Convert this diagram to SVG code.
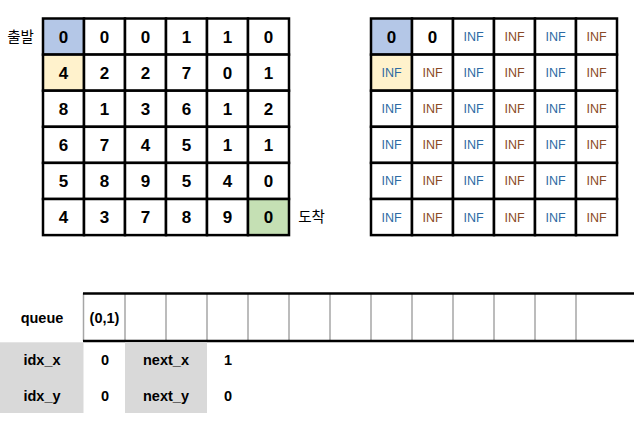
<svg xmlns="http://www.w3.org/2000/svg" width="634" height="422" viewBox="0 0 634 422">
<style>
.bg{fill:#ffffff}
.cell{fill:#ffffff;stroke:#000000;stroke-width:2.5}
.start{fill:#b4c7e7}
.visit{fill:#fff2cc}
.goal{fill:#c5e0b4}
.num{font-family:"Liberation Sans","Noto Sans CJK KR",sans-serif;font-weight:bold;font-size:17px;fill:#000;text-anchor:middle}
.inf{font-family:"Liberation Sans","Noto Sans CJK KR",sans-serif;font-size:12.5px;text-anchor:middle}
.ia{fill:#2d6aa3}
.ib{fill:#8a4a26}
.ko{font-family:"Noto Sans CJK KR","Liberation Sans",sans-serif;font-size:14.5px;fill:#000;text-anchor:middle}
.lbl{font-family:"Liberation Sans","Noto Sans CJK KR",sans-serif;font-weight:bold;font-size:14.5px;fill:#000;text-anchor:middle}
.grey{fill:#d9d9d9}
.qline{stroke:#a6a6a6;stroke-width:1.5}
.qedge{stroke:#000;stroke-width:2.5}
</style>
<rect class="bg" x="0" y="0" width="634" height="422"/>

<g id="map">
<g id="m00"><rect class="cell start" x="43" y="18.5" width="41" height="36.1"/><text class="num" x="63.5" y="42.6">0</text></g>
<g id="m01"><rect class="cell" x="84" y="18.5" width="41" height="36.1"/><text class="num" x="104.5" y="42.6">0</text></g>
<g id="m02"><rect class="cell" x="125" y="18.5" width="41" height="36.1"/><text class="num" x="145.5" y="42.6">0</text></g>
<g id="m03"><rect class="cell" x="166" y="18.5" width="41" height="36.1"/><text class="num" x="186.5" y="42.6">1</text></g>
<g id="m04"><rect class="cell" x="207" y="18.5" width="41" height="36.1"/><text class="num" x="227.5" y="42.6">1</text></g>
<g id="m05"><rect class="cell" x="248" y="18.5" width="41" height="36.1"/><text class="num" x="268.5" y="42.6">0</text></g>

<g id="m10"><rect class="cell visit" x="43" y="54.6" width="41" height="36.1"/><text class="num" x="63.5" y="78.7">4</text></g>
<g id="m11"><rect class="cell" x="84" y="54.6" width="41" height="36.1"/><text class="num" x="104.5" y="78.7">2</text></g>
<g id="m12"><rect class="cell" x="125" y="54.6" width="41" height="36.1"/><text class="num" x="145.5" y="78.7">2</text></g>
<g id="m13"><rect class="cell" x="166" y="54.6" width="41" height="36.1"/><text class="num" x="186.5" y="78.7">7</text></g>
<g id="m14"><rect class="cell" x="207" y="54.6" width="41" height="36.1"/><text class="num" x="227.5" y="78.7">0</text></g>
<g id="m15"><rect class="cell" x="248" y="54.6" width="41" height="36.1"/><text class="num" x="268.5" y="78.7">1</text></g>

<g id="m20"><rect class="cell" x="43" y="90.7" width="41" height="36.1"/><text class="num" x="63.5" y="114.8">8</text></g>
<g id="m21"><rect class="cell" x="84" y="90.7" width="41" height="36.1"/><text class="num" x="104.5" y="114.8">1</text></g>
<g id="m22"><rect class="cell" x="125" y="90.7" width="41" height="36.1"/><text class="num" x="145.5" y="114.8">3</text></g>
<g id="m23"><rect class="cell" x="166" y="90.7" width="41" height="36.1"/><text class="num" x="186.5" y="114.8">6</text></g>
<g id="m24"><rect class="cell" x="207" y="90.7" width="41" height="36.1"/><text class="num" x="227.5" y="114.8">1</text></g>
<g id="m25"><rect class="cell" x="248" y="90.7" width="41" height="36.1"/><text class="num" x="268.5" y="114.8">2</text></g>

<g id="m30"><rect class="cell" x="43" y="126.8" width="41" height="36.1"/><text class="num" x="63.5" y="150.9">6</text></g>
<g id="m31"><rect class="cell" x="84" y="126.8" width="41" height="36.1"/><text class="num" x="104.5" y="150.9">7</text></g>
<g id="m32"><rect class="cell" x="125" y="126.8" width="41" height="36.1"/><text class="num" x="145.5" y="150.9">4</text></g>
<g id="m33"><rect class="cell" x="166" y="126.8" width="41" height="36.1"/><text class="num" x="186.5" y="150.9">5</text></g>
<g id="m34"><rect class="cell" x="207" y="126.8" width="41" height="36.1"/><text class="num" x="227.5" y="150.9">1</text></g>
<g id="m35"><rect class="cell" x="248" y="126.8" width="41" height="36.1"/><text class="num" x="268.5" y="150.9">1</text></g>

<g id="m40"><rect class="cell" x="43" y="162.9" width="41" height="36.1"/><text class="num" x="63.5" y="187">5</text></g>
<g id="m41"><rect class="cell" x="84" y="162.9" width="41" height="36.1"/><text class="num" x="104.5" y="187">8</text></g>
<g id="m42"><rect class="cell" x="125" y="162.9" width="41" height="36.1"/><text class="num" x="145.5" y="187">9</text></g>
<g id="m43"><rect class="cell" x="166" y="162.9" width="41" height="36.1"/><text class="num" x="186.5" y="187">5</text></g>
<g id="m44"><rect class="cell" x="207" y="162.9" width="41" height="36.1"/><text class="num" x="227.5" y="187">4</text></g>
<g id="m45"><rect class="cell" x="248" y="162.9" width="41" height="36.1"/><text class="num" x="268.5" y="187">0</text></g>

<g id="m50"><rect class="cell" x="43" y="199" width="41" height="36.1"/><text class="num" x="63.5" y="223.1">4</text></g>
<g id="m51"><rect class="cell" x="84" y="199" width="41" height="36.1"/><text class="num" x="104.5" y="223.1">3</text></g>
<g id="m52"><rect class="cell" x="125" y="199" width="41" height="36.1"/><text class="num" x="145.5" y="223.1">7</text></g>
<g id="m53"><rect class="cell" x="166" y="199" width="41" height="36.1"/><text class="num" x="186.5" y="223.1">8</text></g>
<g id="m54"><rect class="cell" x="207" y="199" width="41" height="36.1"/><text class="num" x="227.5" y="223.1">9</text></g>
<g id="m55"><rect class="cell goal" x="248" y="199" width="41" height="36.1"/><text class="num" x="268.5" y="223.1">0</text></g>
</g>

<g id="label-start"><text class="ko" x="20.5" y="41.5">출발</text></g>
<g id="label-goal"><text class="ko" x="311.5" y="222">도착</text></g>

<g id="dist">
<g id="d00"><rect class="cell start" x="371" y="18.5" width="41" height="36.1"/><text class="num" x="391.5" y="42.6">0</text></g>
<g id="d01"><rect class="cell" x="412" y="18.5" width="41" height="36.1"/><text class="num" x="432.5" y="42.6">0</text></g>
<g id="d02"><rect class="cell" x="453" y="18.5" width="41" height="36.1"/><text class="inf ia" x="473.5" y="41">INF</text></g>
<g id="d03"><rect class="cell" x="494" y="18.5" width="41" height="36.1"/><text class="inf ib" x="514.5" y="41">INF</text></g>
<g id="d04"><rect class="cell" x="535" y="18.5" width="41" height="36.1"/><text class="inf ia" x="555.5" y="41">INF</text></g>
<g id="d05"><rect class="cell" x="576" y="18.5" width="41" height="36.1"/><text class="inf ib" x="596.5" y="41">INF</text></g>

<g id="d10"><rect class="cell visit" x="371" y="54.6" width="41" height="36.1"/><text class="inf ia" x="391.5" y="77.1">INF</text></g>
<g id="d11"><rect class="cell" x="412" y="54.6" width="41" height="36.1"/><text class="inf ib" x="432.5" y="77.1">INF</text></g>
<g id="d12"><rect class="cell" x="453" y="54.6" width="41" height="36.1"/><text class="inf ia" x="473.5" y="77.1">INF</text></g>
<g id="d13"><rect class="cell" x="494" y="54.6" width="41" height="36.1"/><text class="inf ib" x="514.5" y="77.1">INF</text></g>
<g id="d14"><rect class="cell" x="535" y="54.6" width="41" height="36.1"/><text class="inf ia" x="555.5" y="77.1">INF</text></g>
<g id="d15"><rect class="cell" x="576" y="54.6" width="41" height="36.1"/><text class="inf ib" x="596.5" y="77.1">INF</text></g>

<g id="d20"><rect class="cell" x="371" y="90.7" width="41" height="36.1"/><text class="inf ia" x="391.5" y="113.2">INF</text></g>
<g id="d21"><rect class="cell" x="412" y="90.7" width="41" height="36.1"/><text class="inf ib" x="432.5" y="113.2">INF</text></g>
<g id="d22"><rect class="cell" x="453" y="90.7" width="41" height="36.1"/><text class="inf ia" x="473.5" y="113.2">INF</text></g>
<g id="d23"><rect class="cell" x="494" y="90.7" width="41" height="36.1"/><text class="inf ib" x="514.5" y="113.2">INF</text></g>
<g id="d24"><rect class="cell" x="535" y="90.7" width="41" height="36.1"/><text class="inf ia" x="555.5" y="113.2">INF</text></g>
<g id="d25"><rect class="cell" x="576" y="90.7" width="41" height="36.1"/><text class="inf ib" x="596.5" y="113.2">INF</text></g>

<g id="d30"><rect class="cell" x="371" y="126.8" width="41" height="36.1"/><text class="inf ia" x="391.5" y="149.3">INF</text></g>
<g id="d31"><rect class="cell" x="412" y="126.8" width="41" height="36.1"/><text class="inf ib" x="432.5" y="149.3">INF</text></g>
<g id="d32"><rect class="cell" x="453" y="126.8" width="41" height="36.1"/><text class="inf ia" x="473.5" y="149.3">INF</text></g>
<g id="d33"><rect class="cell" x="494" y="126.8" width="41" height="36.1"/><text class="inf ib" x="514.5" y="149.3">INF</text></g>
<g id="d34"><rect class="cell" x="535" y="126.8" width="41" height="36.1"/><text class="inf ia" x="555.5" y="149.3">INF</text></g>
<g id="d35"><rect class="cell" x="576" y="126.8" width="41" height="36.1"/><text class="inf ib" x="596.5" y="149.3">INF</text></g>

<g id="d40"><rect class="cell" x="371" y="162.9" width="41" height="36.1"/><text class="inf ia" x="391.5" y="185.4">INF</text></g>
<g id="d41"><rect class="cell" x="412" y="162.9" width="41" height="36.1"/><text class="inf ib" x="432.5" y="185.4">INF</text></g>
<g id="d42"><rect class="cell" x="453" y="162.9" width="41" height="36.1"/><text class="inf ia" x="473.5" y="185.4">INF</text></g>
<g id="d43"><rect class="cell" x="494" y="162.9" width="41" height="36.1"/><text class="inf ib" x="514.5" y="185.4">INF</text></g>
<g id="d44"><rect class="cell" x="535" y="162.9" width="41" height="36.1"/><text class="inf ia" x="555.5" y="185.4">INF</text></g>
<g id="d45"><rect class="cell" x="576" y="162.9" width="41" height="36.1"/><text class="inf ib" x="596.5" y="185.4">INF</text></g>

<g id="d50"><rect class="cell" x="371" y="199" width="41" height="36.1"/><text class="inf ia" x="391.5" y="221.5">INF</text></g>
<g id="d51"><rect class="cell" x="412" y="199" width="41" height="36.1"/><text class="inf ib" x="432.5" y="221.5">INF</text></g>
<g id="d52"><rect class="cell" x="453" y="199" width="41" height="36.1"/><text class="inf ia" x="473.5" y="221.5">INF</text></g>
<g id="d53"><rect class="cell" x="494" y="199" width="41" height="36.1"/><text class="inf ib" x="514.5" y="221.5">INF</text></g>
<g id="d54"><rect class="cell" x="535" y="199" width="41" height="36.1"/><text class="inf ia" x="555.5" y="221.5">INF</text></g>
<g id="d55"><rect class="cell" x="576" y="199" width="41" height="36.1"/><text class="inf ib" x="596.5" y="221.5">INF</text></g>
</g>

<g id="queue">
<text class="lbl" x="42" y="322.5">queue</text>
<g id="queue-cells">
<line class="qline" x1="83.5" y1="293" x2="83.5" y2="341"/>
<line class="qline" x1="125" y1="293" x2="125" y2="341"/>
<line class="qline" x1="166" y1="293" x2="166" y2="341"/>
<line class="qline" x1="207" y1="293" x2="207" y2="341"/>
<line class="qline" x1="248" y1="293" x2="248" y2="341"/>
<line class="qline" x1="289" y1="293" x2="289" y2="341"/>
<line class="qline" x1="330" y1="293" x2="330" y2="341"/>
<line class="qline" x1="371" y1="293" x2="371" y2="341"/>
<line class="qline" x1="412" y1="293" x2="412" y2="341"/>
<line class="qline" x1="453" y1="293" x2="453" y2="341"/>
<line class="qline" x1="494" y1="293" x2="494" y2="341"/>
<line class="qline" x1="535" y1="293" x2="535" y2="341"/>
<line class="qline" x1="576" y1="293" x2="576" y2="341"/>
<line class="qedge" x1="83" y1="293.5" x2="634" y2="293.5"/>
<line class="qedge" x1="83" y1="341" x2="634" y2="341"/>
</g>
<text class="lbl" x="104.5" y="322.5">(0,1)</text>
</g>

<g id="vars">
<rect class="grey" x="0" y="342.3" width="83.5" height="70.7"/>
<rect class="grey" x="125" y="342.3" width="82" height="70.7"/>
<text class="lbl" x="42" y="365">idx_x</text>
<text class="lbl" x="42" y="401">idx_y</text>
<text class="lbl" x="105" y="365">0</text>
<text class="lbl" x="105" y="401">0</text>
<text class="lbl" x="166" y="365">next_x</text>
<text class="lbl" x="166" y="401">next_y</text>
<text class="lbl" x="228" y="365">1</text>
<text class="lbl" x="228" y="401">0</text>
</g>
</svg>
